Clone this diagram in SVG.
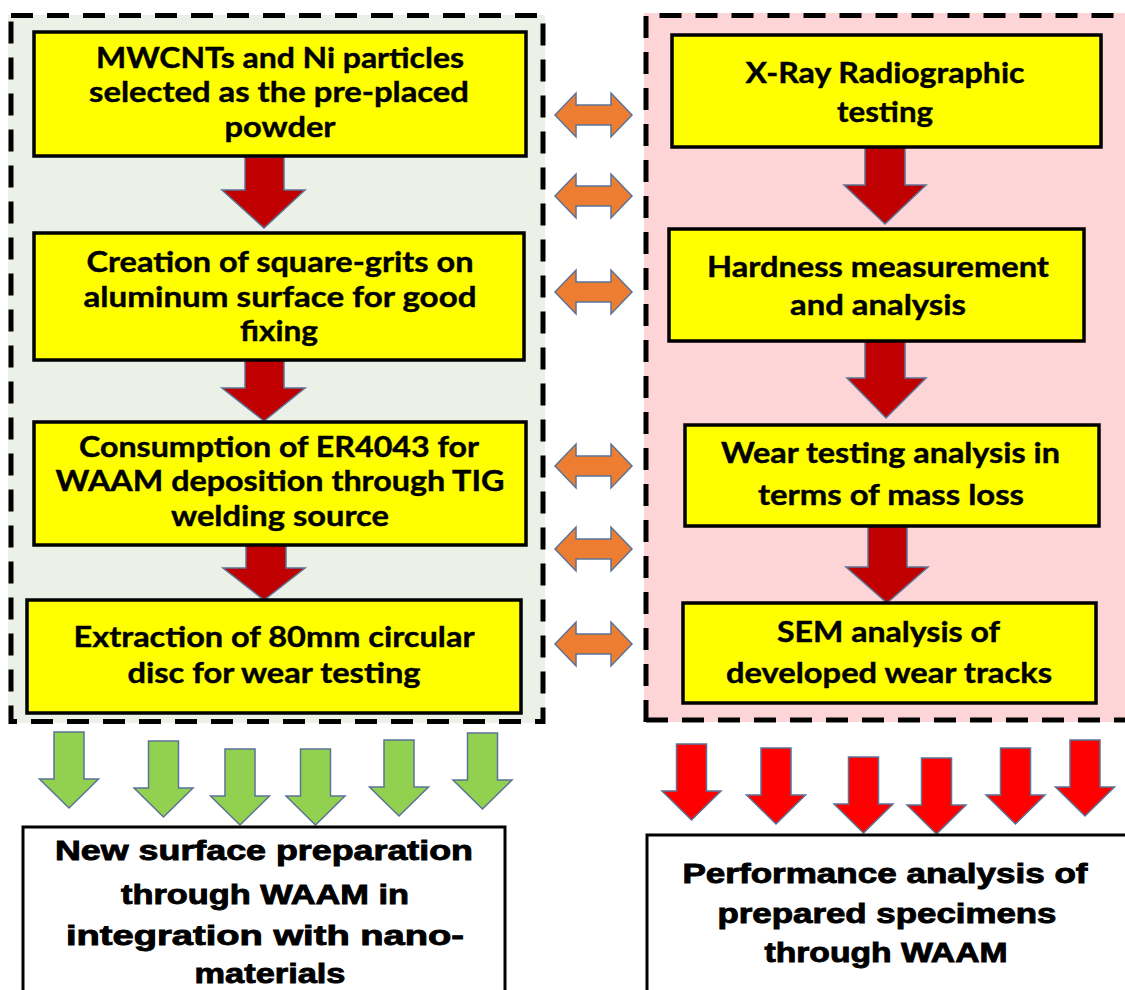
<svg xmlns="http://www.w3.org/2000/svg" width="1125" height="990" viewBox="0 0 1125 990">
<style>
.panel{stroke:#000;stroke-width:5;stroke-dasharray:22 14}
.box{fill:#FFFF00;stroke:#000;stroke-width:3.5}
.out{fill:#FFFFFF;stroke:#000;stroke-width:3}
.t{font-family:Lato,"Open Sans","Liberation Sans",sans-serif;font-weight:bold;font-size:28px;fill:#000;text-anchor:middle;stroke:#000;stroke-width:0.4}
.b{font-family:"Liberation Sans",Arial,sans-serif;font-weight:bold;font-size:28px;fill:#000;text-anchor:middle;stroke:#000;stroke-width:0.9}
.dr{fill:#C00000;stroke:#5B7396;stroke-width:1.5}
.or{fill:#ED7D31;stroke:#5B7396;stroke-width:1.5}
.gr{fill:#92D050;stroke:#5B7396;stroke-width:1.5}
.rd{fill:#FF0000;stroke:#5B7396;stroke-width:1.5}
</style>
<defs>
<path id="dbl" d="M-38.5,0 L-17.5,-22 L-17.5,-10 L17.5,-10 L17.5,-22 L38.5,0 L17.5,22 L17.5,10 L-17.5,10 L-17.5,22 Z"/>
<path id="down" d="M-15,0 H15 V47 H29.5 L0,76 L-29.5,47 H-15 Z"/>
</defs>
<rect width="1125" height="990" fill="#FFFFFF"/>

<g id="panel-left">
<rect x="8" y="15" width="537" height="708" fill="#EBF1E6" stroke="none"/>
<rect x="11" y="15.5" width="532" height="706" fill="none" class="panel"/>
</g>
<g id="panel-right">
<rect x="644" y="13" width="481" height="709" fill="#FDD5D6" stroke="none"/>
<path d="M646,722 V15.5 H1140 M646,720 H1140" fill="none" class="panel"/>
</g>

<g id="connectors">
<path class="dr" d="M245,157 H284 V190 H305 L264,228 L222,190 H245 Z"/>
<path class="dr" d="M245,360 H284 V388 H305 L264,421 L222,388 H245 Z"/>
<path class="dr" d="M246,545 H286 V568 H305 L264,600 L223,568 H246 Z"/>
<path class="dr" d="M865,147 H905 V185 H926 L885,224 L844,185 H865 Z"/>
<path class="dr" d="M865,341 H905 V378 H926 L886,418 L847,378 H865 Z"/>
<path class="dr" d="M868,526 H907 V567 H928 L887,603 L846,567 H868 Z"/>
<use href="#dbl" class="or" x="593.5" y="115"/>
<use href="#dbl" class="or" x="593.5" y="196"/>
<use href="#dbl" class="or" x="593.5" y="292"/>
<use href="#dbl" class="or" x="593.5" y="466"/>
<use href="#dbl" class="or" x="593.5" y="549"/>
<use href="#dbl" class="or" x="593.5" y="644"/>
<use href="#down" class="gr" x="69" y="732"/>
<use href="#down" class="gr" x="163.5" y="741"/>
<use href="#down" class="gr" x="240" y="749"/>
<use href="#down" class="gr" x="315.5" y="749"/>
<use href="#down" class="gr" x="399" y="740"/>
<use href="#down" class="gr" x="482.5" y="733"/>
<use href="#down" class="rd" x="691.5" y="744"/>
<use href="#down" class="rd" x="776" y="748"/>
<use href="#down" class="rd" x="863.5" y="757"/>
<use href="#down" class="rd" x="936.5" y="758"/>
<use href="#down" class="rd" x="1015.5" y="748"/>
<use href="#down" class="rd" x="1085" y="740"/>
</g>

<g id="node-l1">
<rect class="box" x="34" y="32" width="492" height="124"/>
<text class="t" x="280" y="68" textLength="368" lengthAdjust="spacingAndGlyphs">MWCNTs and Ni particles</text>
<text class="t" x="279" y="102" textLength="380" lengthAdjust="spacingAndGlyphs">selected as the pre-placed</text>
<text class="t" x="280" y="137" textLength="111" lengthAdjust="spacingAndGlyphs">powder</text>
</g>
<g id="node-l2">
<rect class="box" x="34" y="233" width="490" height="127"/>
<text class="t" x="280" y="272" textLength="387" lengthAdjust="spacingAndGlyphs">Creation of square-grits on</text>
<text class="t" x="280" y="307" textLength="393" lengthAdjust="spacingAndGlyphs">aluminum surface for good</text>
<text class="t" x="279" y="341" textLength="78" lengthAdjust="spacingAndGlyphs">fixing</text>
</g>
<g id="node-l3">
<rect class="box" x="34" y="422" width="492" height="123"/>
<text class="t" x="279" y="457" textLength="400" lengthAdjust="spacingAndGlyphs">Consumption of ER4043 for</text>
<text class="t" x="280" y="491" textLength="449" lengthAdjust="spacingAndGlyphs">WAAM deposition through TIG</text>
<text class="t" x="280" y="526" textLength="218" lengthAdjust="spacingAndGlyphs">welding source</text>
</g>
<g id="node-l4">
<rect class="box" x="27" y="600" width="494" height="113"/>
<text class="t" x="274" y="647" textLength="401" lengthAdjust="spacingAndGlyphs">Extraction of 80mm circular</text>
<text class="t" x="274" y="683" textLength="293" lengthAdjust="spacingAndGlyphs">disc for wear testing</text>
</g>

<g id="node-r1">
<rect class="box" x="672" y="35" width="429" height="112"/>
<text class="t" x="885" y="83" textLength="279" lengthAdjust="spacingAndGlyphs">X-Ray Radiographic</text>
<text class="t" x="885" y="122" textLength="96" lengthAdjust="spacingAndGlyphs">testing</text>
</g>
<g id="node-r2">
<rect class="box" x="669" y="229" width="415" height="112"/>
<text class="t" x="878" y="277" textLength="342" lengthAdjust="spacingAndGlyphs">Hardness measurement</text>
<text class="t" x="878" y="315" textLength="176" lengthAdjust="spacingAndGlyphs">and analysis</text>
</g>
<g id="node-r3">
<rect class="box" x="685" y="425" width="414" height="101"/>
<text class="t" x="890.5" y="463" textLength="339" lengthAdjust="spacingAndGlyphs">Wear testing analysis in</text>
<text class="t" x="891" y="505" textLength="266" lengthAdjust="spacingAndGlyphs">terms of mass loss</text>
</g>
<g id="node-r4">
<rect class="box" x="683" y="603" width="413" height="100"/>
<text class="t" x="888.5" y="642" textLength="223" lengthAdjust="spacingAndGlyphs">SEM analysis of</text>
<text class="t" x="889" y="683" textLength="326" lengthAdjust="spacingAndGlyphs">developed wear tracks</text>
</g>

<g id="node-out-left">
<rect class="out" x="23" y="827" width="482" height="200"/>
<text class="b" x="264" y="860" textLength="418" lengthAdjust="spacingAndGlyphs">New surface preparation</text>
<text class="b" x="265" y="904" textLength="288" lengthAdjust="spacingAndGlyphs">through WAAM in</text>
<text class="b" x="265" y="945" textLength="398" lengthAdjust="spacingAndGlyphs">integration with nano-</text>
<text class="b" x="270" y="983" textLength="151" lengthAdjust="spacingAndGlyphs">materials</text>
</g>
<g id="node-out-right">
<rect class="out" x="647" y="835" width="500" height="200"/>
<text class="b" x="885" y="883" textLength="405" lengthAdjust="spacingAndGlyphs">Performance analysis of</text>
<text class="b" x="887" y="923" textLength="339" lengthAdjust="spacingAndGlyphs">prepared specimens</text>
<text class="b" x="886" y="962" textLength="243" lengthAdjust="spacingAndGlyphs">through WAAM</text>
</g>
</svg>
